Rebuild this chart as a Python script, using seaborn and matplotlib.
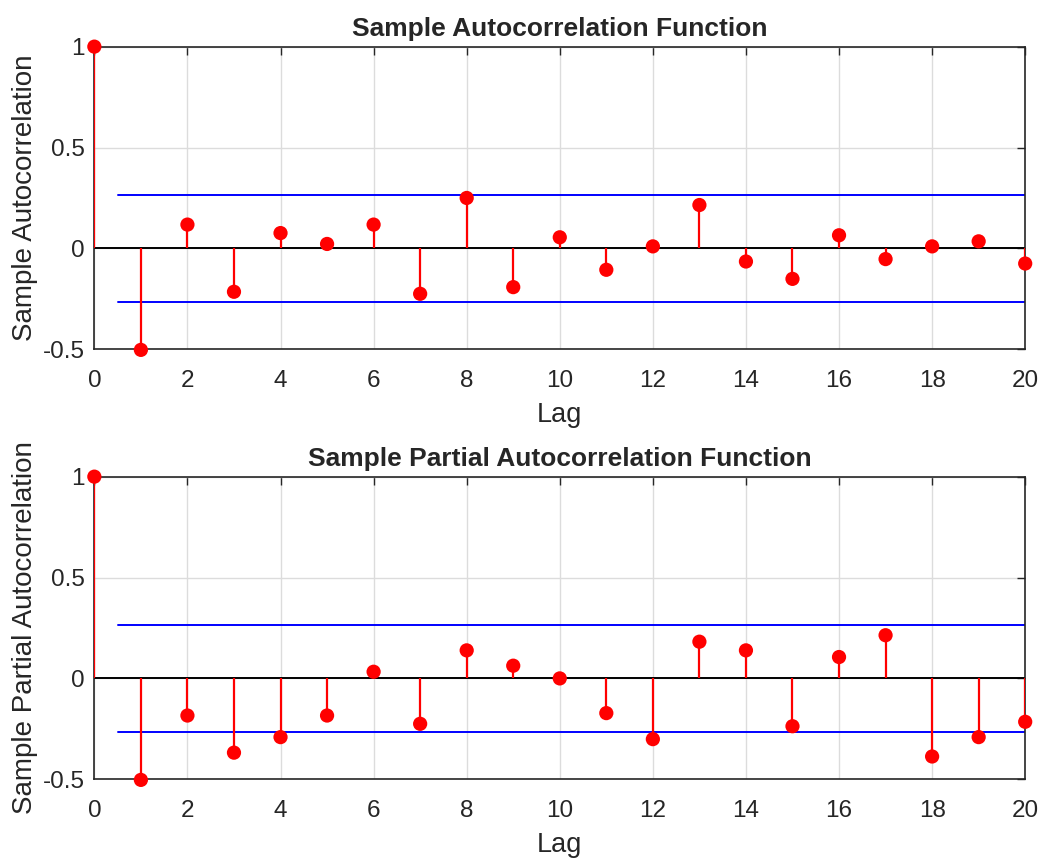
import numpy as np
import pandas as pd
import matplotlib
matplotlib.use('Agg')
import matplotlib.pyplot as plt
import seaborn as sns

# Значения
lags = list(range(21))
acf_vals = [1.0, -0.503, 0.118, -0.215, 0.076, 0.022, 0.118, -0.225, 0.25, -0.192,
            0.055, -0.106, 0.01, 0.215, -0.065, -0.151, 0.065, -0.053, 0.01, 0.035, -0.075]
pacf_vals = [1.0, -0.503, -0.184, -0.368, -0.291, -0.184, 0.033, -0.225, 0.139, 0.063,
             0.0, -0.172, -0.301, 0.182, 0.139, -0.237, 0.106, 0.214, -0.387, -0.291, -0.215]
conf_bound = 0.267
bound_lags = [0.5, 20]

titles = ['Sample Autocorrelation Function', 'Sample Partial Autocorrelation Function']
ylabels = ['Sample Autocorrelation', 'Sample Partial Autocorrelation']


def draw_panel(ax, vals, title, ylabel):
    df = pd.DataFrame({'Lag': lags, 'Value': vals})
    ax.vlines(df['Lag'], 0, df['Value'], color='red', linewidth=1.6, zorder=3)
    sns.scatterplot(data=df, x='Lag', y='Value', ax=ax, color='red', s=105,
                    edgecolor='none', zorder=4, clip_on=False)
    ax.axhline(0, color='black', linewidth=1.4, zorder=2)
    ax.plot(bound_lags, [conf_bound, conf_bound], color='blue', linewidth=1.4, zorder=2)
    ax.plot(bound_lags, [-conf_bound, -conf_bound], color='blue', linewidth=1.4, zorder=2)

    ax.set_xlim(0, 20)
    ax.set_ylim(-0.5, 1)
    ax.set_xticks(np.arange(0, 21, 2))
    ax.set_yticks([-0.5, 0, 0.5, 1])
    ax.set_yticklabels(['-0.5', '0', '0.5', '1'])
    ax.grid(True, color='#dcdcdc', linewidth=1)
    ax.set_axisbelow(True)
    ax.tick_params(direction='in', top=True, right=True, length=6, width=1,
                   labelsize=17.5, colors='#262626')
    ax.tick_params(axis='x', pad=15)
    ax.tick_params(axis='y', pad=7)
    for sp in ax.spines.values():
        sp.set_color('#262626')
        sp.set_linewidth(1.2)
    ax.set_title(title, fontsize=19, fontweight='bold', pad=8)
    ax.set_xlabel('Lag', fontsize=19.5, color='#262626', labelpad=7)
    ax.set_ylabel(ylabel, fontsize=20, color='#262626', labelpad=3)


sns.set_style('white')
plt.rcParams['font.family'] = ['Liberation Sans', 'DejaVu Sans']

fig = plt.figure(figsize=(10.53, 8.59), dpi=100)
ax1 = fig.add_axes([0.0896, 0.5934, 0.884, 0.3523])
ax2 = fig.add_axes([0.0896, 0.0928, 0.884, 0.3523])

draw_panel(ax1, acf_vals, titles[0], ylabels[0])
draw_panel(ax2, pacf_vals, titles[1], ylabels[1])

fig.savefig('out.png', dpi=100)
plt.close('all')
